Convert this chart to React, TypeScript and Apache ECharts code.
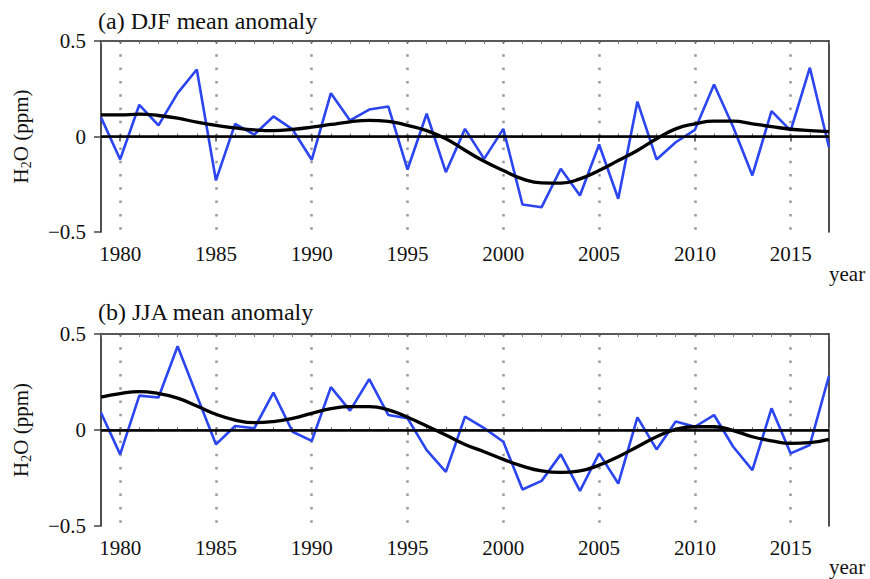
import React, { useEffect, useRef } from "react";
import * as echarts from "echarts";

const years: string[] = [];
for (let y = 1979; y <= 2017; y++) years.push(String(y));

const djfAnomaly = [
  0.10, -0.12, 0.166, 0.058, 0.227, 0.351, -0.23, 0.066, 0.01, 0.105,
  0.037, -0.122, 0.227, 0.084, 0.141, 0.157, -0.173, 0.119, -0.187, 0.04,
  -0.117, 0.04, -0.356, -0.37, -0.169, -0.309, -0.042, -0.326, 0.183, -0.12,
  -0.03, 0.035, 0.272, 0.05, -0.204, 0.133, 0.031, 0.36, -0.056,
];
const djfSmooth = [
  0.113, 0.113, 0.117, 0.11, 0.096, 0.075, 0.058, 0.045, 0.035, 0.031,
  0.037, 0.049, 0.063, 0.077, 0.084, 0.079, 0.058, 0.031, -0.012, -0.072,
  -0.13, -0.178, -0.222, -0.243, -0.244, -0.222, -0.178, -0.126, -0.073, -0.012,
  0.04, 0.066, 0.08, 0.08, 0.066, 0.052, 0.038, 0.031, 0.026,
];
const jjaAnomaly = [
  0.09, -0.127, 0.179, 0.169, 0.436, 0.18, -0.075, 0.021, 0.009, 0.195,
  -0.009, -0.057, 0.223, 0.101, 0.265, 0.078, 0.061, -0.105, -0.218, 0.07,
  0.01, -0.061, -0.31, -0.265, -0.127, -0.317, -0.122, -0.279, 0.066, -0.101,
  0.044, 0.017, 0.078, -0.087, -0.209, 0.113, -0.122, -0.078, 0.282,
];
const jjaSmooth = [
  0.171, 0.19, 0.2, 0.19, 0.166, 0.125, 0.082, 0.052, 0.038, 0.044,
  0.061, 0.087, 0.111, 0.122, 0.122, 0.105, 0.066, 0.021, -0.026, -0.075,
  -0.113, -0.153, -0.188, -0.213, -0.221, -0.213, -0.183, -0.139, -0.087, -0.035,
  0.003, 0.017, 0.017, -0.003, -0.035, -0.056, -0.07, -0.066, -0.049,
];
const panelTitles = ["(a) DJF mean anomaly", "(b) JJA mean anomaly"];
const yTicks = [-0.5, 0, 0.5];

const FONT = "Liberation Serif";
const isMajor = (i: number) => (1979 + i) % 5 === 0;

export default function App() {
  const ref = useRef<HTMLDivElement>(null);
  useEffect(() => {
    if (!ref.current) return;
    const chart = echarts.init(ref.current, null, { renderer: "svg" });
    const grids = [
      { left: 101, top: 41, width: 728, height: 191 },
      { left: 101, top: 334, width: 728, height: 192 },
    ];
    const xAxis: any[] = [];
    const yAxis: any[] = [];
    const series: any[] = [];
    const data = [
      [djfAnomaly, djfSmooth],
      [jjaAnomaly, jjaSmooth],
    ];
    grids.forEach((_, g) => {
      const base = xAxis.length;
      xAxis.push({
        type: "category", gridIndex: g, data: years, boundaryGap: false, position: "bottom",
        axisLine: { show: true, lineStyle: { color: "#222", width: 1.6 } },
        axisTick: { show: true, interval: (i: number) => isMajor(i), length: 5, lineStyle: { color: "#444", width: 1.5 } },
        axisLabel: { interval: (i: number) => isMajor(i), margin: 11, fontSize: 21, color: "#111", fontFamily: FONT },
        splitLine: { show: true, interval: (i: number) => isMajor(i), lineStyle: { color: "#999", width: 2.5, type: [2.5, 10.8] } },
      });
      xAxis.push({
        type: "category", gridIndex: g, data: years, boundaryGap: false, position: "bottom",
        axisLine: { show: false },
        axisTick: { show: true, inside: true, interval: 0, length: 3, lineStyle: { color: "#777", width: 1 } },
        axisLabel: { show: false }, splitLine: { show: false },
      });
      xAxis.push({
        type: "category", gridIndex: g, data: years, boundaryGap: false, position: "top",
        axisLine: { show: true, lineStyle: { color: "#222", width: 1.6 } },
        axisTick: { show: true, inside: true, interval: 0, length: 3, lineStyle: { color: "#777", width: 1 } },
        axisLabel: { show: false }, splitLine: { show: false },
      });
      const yBase = yAxis.length;
      yAxis.push({
        type: "value", gridIndex: g, min: -0.5, max: 0.5, interval: 0.5, position: "left",
        name: "{a|H}{s|2}{a|O (ppm)}", nameLocation: "middle", nameGap: 68,
        nameTextStyle: {
          rich: {
            a: { fontSize: 21, fontFamily: FONT, color: "#111" },
            s: { fontSize: 14, fontFamily: FONT, color: "#111", verticalAlign: "bottom", padding: [10, 0, 0, 0] },
          },
        },
        axisLine: { show: true, lineStyle: { color: "#222", width: 1.6 } },
        axisTick: { show: true, length: 7, lineStyle: { color: "#444", width: 1.5 } },
        axisLabel: {
          margin: 15, fontSize: 21, color: "#111", fontFamily: FONT,
          formatter: (v: number) => (yTicks.includes(v) ? (v < 0 ? "\u2212" + Math.abs(v) : String(v)) : ""),
        },
        splitLine: { show: false },
      });
      yAxis.push({
        type: "value", gridIndex: g, min: -0.5, max: 0.5, interval: 0.5, position: "right",
        axisLine: { show: true, lineStyle: { color: "#222", width: 1.6 } },
        axisTick: { show: false }, axisLabel: { show: false }, splitLine: { show: false },
      });
      series.push({
        type: "line", xAxisIndex: base, yAxisIndex: yBase, data: data[g][0],
        symbol: "none", lineStyle: { color: "#2b45f0", width: 2.6 }, z: 3,
        markLine: {
          silent: true, symbol: "none", label: { show: false },
          lineStyle: { color: "#000", width: 2.6, type: "solid" },
          data: [{ yAxis: 0 }],
        },
      });
      series.push({
        type: "line", xAxisIndex: base, yAxisIndex: yBase, data: data[g][1],
        symbol: "none", smooth: 0.5, lineStyle: { color: "#000", width: 3.3 }, z: 4,
      });
    });
    chart.setOption({
      animation: false,
      backgroundColor: "#fff",
      title: [
        { text: panelTitles[0], left: 93, top: 4, textStyle: { fontSize: 24, fontWeight: "normal", fontFamily: FONT, color: "#111" } },
        { text: panelTitles[1], left: 93, top: 295, textStyle: { fontSize: 24, fontWeight: "normal", fontFamily: FONT, color: "#111" } },
      ],
      grid: grids,
      xAxis, yAxis, series,
      graphic: [
        { type: "text", left: 829, top: 263, style: { text: "year", fontSize: 21, fontFamily: FONT, fill: "#111" } },
        { type: "text", left: 829, top: 556, style: { text: "year", fontSize: 21, fontFamily: FONT, fill: "#111" } },
      ],
    });
    return () => chart.dispose();
  }, []);
  return <div ref={ref} style={{ position: "fixed", left: 0, top: 0, width: 870, height: 579 }} />;
}
